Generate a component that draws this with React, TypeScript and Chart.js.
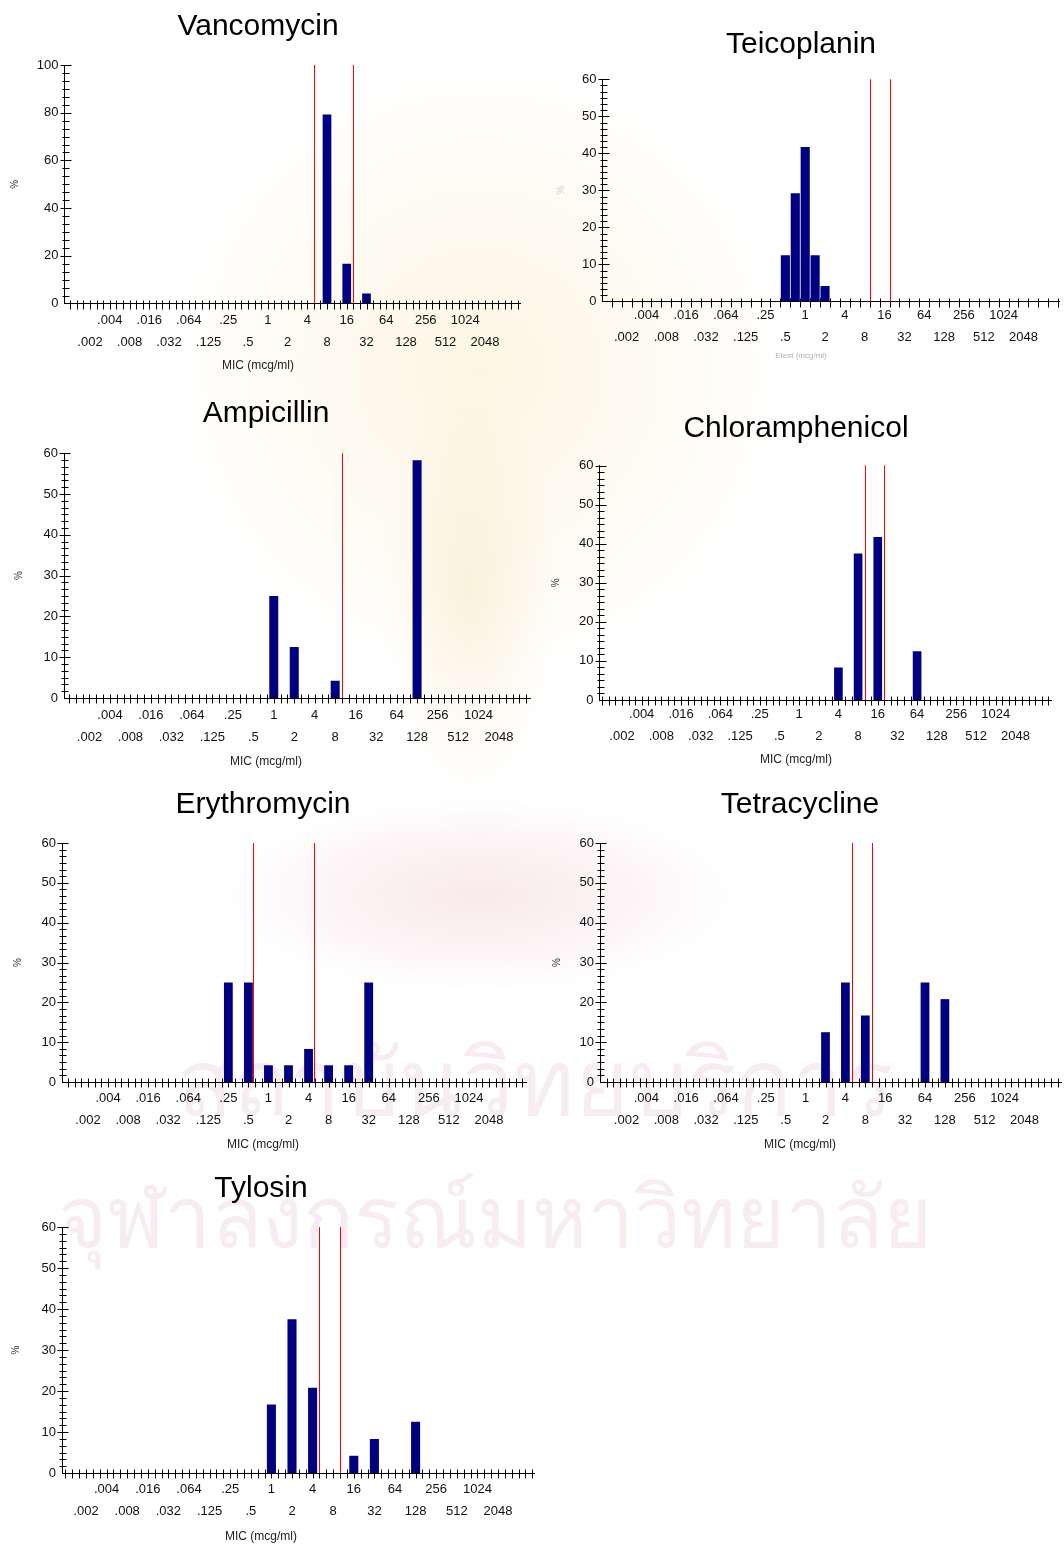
import React, { useEffect, useRef } from 'react';
import { Chart, registerables } from 'chart.js';

Chart.register(...registerables);

const FONT = '"Liberation Sans", Arial, Helvetica, sans-serif';

// ---- x-axis tick labels (log2 dilution series) ----
const MIC_LABELS = ['.002', '.004', '.008', '.016', '.032', '.064', '.125', '.25', '.5', '1', '2', '4', '8', '16', '32', '64', '128', '256', '512', '1024', '2048'];
const FIRST_LABEL_EXP = -9;

// ---- data (% of isolates per MIC) ----
const vancomycinMIC = [8, 16, 32];
const vancomycinPct = [79.2, 16.7, 4.2];
const vancomycinBreakpoints = [4, 16];

const teicoplaninMIC = [0.5, 0.75, 1, 1.5, 2];
const teicoplaninPct = [12.5, 29.2, 41.7, 12.5, 4.2];
const teicoplaninBreakpoints = [8, 16];

const ampicillinMIC = [1, 2, 8, 128];
const ampicillinPct = [25, 12.5, 4.2, 58.3];
const ampicillinBreakpoints = [8];

const chloramphenicolMIC = [4, 8, 16, 64];
const chloramphenicolPct = [8.3, 37.5, 41.7, 12.5];
const chloramphenicolBreakpoints = [8, 16];

const erythromycinMIC = [0.25, 0.5, 1, 2, 4, 8, 16, 32];
const erythromycinPct = [25, 25, 4.2, 4.2, 8.3, 4.2, 4.2, 25];
const erythromycinBreakpoints = [0.5, 4];

const tetracyclineMIC = [2, 4, 8, 64, 128];
const tetracyclinePct = [12.5, 25, 16.7, 25, 20.8];
const tetracyclineBreakpoints = [4, 8];

const tylosinMIC = [1, 2, 4, 16, 32, 128];
const tylosinPct = [16.7, 37.5, 20.8, 4.2, 8.3, 12.5];
const tylosinBreakpoints = [4, 8];

type Box = {
  L: number; R: number; T: number; B: number; // plot area (page px)
  p0: number; p1: number; // pixel of .002 and 2048
  tx: number; ty: number; // title centre
  my: number; // x-title centre y
  px: number; // "%" x
  row: number; // first label row offset
};

type Spec = {
  title: string;
  mic: number[];
  pct: number[];
  bp: number[];
  yMax: number;
  yStep: number;
  xTitle: string;
  xTitleColor: string;
  xTitleSize: number;
  pctColor: string;
  tickStep: number;
  tickOffset: number;
  lineOffset: number;
  barUnits: number;
  box: Box;
};

const PANELS: Spec[] = [
  {
    title: 'Vancomycin', mic: vancomycinMIC, pct: vancomycinPct, bp: vancomycinBreakpoints,
    yMax: 100, yStep: 20, xTitle: 'MIC (mcg/ml)', xTitleColor: '#222', xTitleSize: 12, pctColor: '#333',
    tickStep: 1 / 3, tickOffset: 0, lineOffset: 1 / 3, barUnits: 0.44,
    box: { L: 64.5, R: 521, T: 65, B: 303.5, p0: 90, p1: 485, tx: 258, ty: 25, my: 366, px: 15, row: 17 },
  },
  {
    title: 'Teicoplanin', mic: teicoplaninMIC, pct: teicoplaninPct, bp: teicoplaninBreakpoints,
    yMax: 60, yStep: 10, xTitle: 'Etest (mcg/ml)', xTitleColor: '#b0b0b0', xTitleSize: 8, pctColor: '#cfcfcf',
    tickStep: 0.5, tickOffset: 0.25, lineOffset: 0.25, barUnits: 0.46,
    box: { L: 602.5, R: 1059.5, T: 79.3, B: 301.5, p0: 626.6, p1: 1023, tx: 801, ty: 43, my: 356, px: 561, row: 14 },
  },
  {
    title: 'Ampicillin', mic: ampicillinMIC, pct: ampicillinPct, bp: ampicillinBreakpoints,
    yMax: 60, yStep: 10, xTitle: 'MIC (mcg/ml)', xTitleColor: '#222', xTitleSize: 12, pctColor: '#333',
    tickStep: 1 / 3, tickOffset: 0, lineOffset: 1 / 3, barUnits: 0.44,
    box: { L: 64, R: 531, T: 453.3, B: 698, p0: 89.5, p1: 499, tx: 266, ty: 412, my: 762, px: 19, row: 17 },
  },
  {
    title: 'Chloramphenicol', mic: chloramphenicolMIC, pct: chloramphenicolPct, bp: chloramphenicolBreakpoints,
    yMax: 60, yStep: 10, xTitle: 'MIC (mcg/ml)', xTitleColor: '#222', xTitleSize: 12, pctColor: '#333',
    tickStep: 1 / 3, tickOffset: 0, lineOffset: 1 / 3, barUnits: 0.44,
    box: { L: 599.5, R: 1051.5, T: 465.5, B: 700, p0: 622, p1: 1015, tx: 796, ty: 427, my: 760, px: 556, row: 14 },
  },
  {
    title: 'Erythromycin', mic: erythromycinMIC, pct: erythromycinPct, bp: erythromycinBreakpoints,
    yMax: 60, yStep: 10, xTitle: 'MIC (mcg/ml)', xTitleColor: '#222', xTitleSize: 12, pctColor: '#333',
    tickStep: 1 / 3, tickOffset: 0, lineOffset: 0.25, barUnits: 0.44,
    box: { L: 62, R: 527, T: 843, B: 1082, p0: 88, p1: 489, tx: 263, ty: 803, my: 1145, px: 18, row: 16 },
  },
  {
    title: 'Tetracycline', mic: tetracyclineMIC, pct: tetracyclinePct, bp: tetracyclineBreakpoints,
    yMax: 60, yStep: 10, xTitle: 'MIC (mcg/ml)', xTitleColor: '#222', xTitleSize: 12, pctColor: '#333',
    tickStep: 1 / 3, tickOffset: 0, lineOffset: 1 / 3, barUnits: 0.44,
    box: { L: 600, R: 1062, T: 843, B: 1082, p0: 626.5, p1: 1024.5, tx: 800, ty: 803, my: 1145, px: 557, row: 16 },
  },
  {
    title: 'Tylosin', mic: tylosinMIC, pct: tylosinPct, bp: tylosinBreakpoints,
    yMax: 60, yStep: 10, xTitle: 'MIC (mcg/ml)', xTitleColor: '#222', xTitleSize: 12, pctColor: '#333',
    tickStep: 1 / 3, tickOffset: 0, lineOffset: 1 / 3, barUnits: 0.44,
    box: { L: 62, R: 535, T: 1227, B: 1473, p0: 86, p1: 498, tx: 261, ty: 1187, my: 1537, px: 16, row: 16 },
  },
];

const TITLE_SIZE = 30;
const TITLE_LH = TITLE_SIZE * 1.2;
const TITLE_SHIFT = 2; // visual baseline correction
const LABEL_LH = 22;

const binPos = (mic: number) => Math.round(Math.log2(mic) * 2) / 2;

function MicChart({ spec }: { spec: Spec }) {
  const ref = useRef<HTMLCanvasElement | null>(null);
  const b = spec.box;
  const cR = Math.round(b.R);
  const cL = Math.round(2 * b.tx - cR);
  const cW = cR - cL;
  const cTop = Math.round(b.ty - TITLE_LH / 2 - 2);
  const cBottom = Math.round(b.my + 10);
  const cH = cBottom - cTop;

  useEffect(() => {
    const canvas = ref.current;
    if (!canvas) return;
    const unit = (b.p1 - b.p0) / 20;
    const xMin = FIRST_LABEL_EXP - (b.p0 - b.L) / unit;
    const xMax = FIRST_LABEL_EXP + 20 + (b.R - b.p1) / unit;

    const positions = spec.mic.map(binPos);
    let minGap = 1;
    for (let i = 1; i < positions.length; i++) minGap = Math.min(minGap, positions[i] - positions[i - 1]);

    const titlePadTop = b.ty - cTop - TITLE_LH / 2 + TITLE_SHIFT;
    const titlePadBottom = b.T - cTop - TITLE_LH - titlePadTop;
    const subLH = spec.xTitleSize * 1.2;
    const subPadBottom = cBottom - b.my - subLH / 2;
    const subHeight = subLH + subPadBottom;
    const xScaleHeight = cBottom - subHeight - b.B;
    const yScaleWidth = b.L - cL;

    const decorations = {
      id: 'micDecor',
      afterDatasetsDraw(chart: any) {
        const ctx = chart.ctx as CanvasRenderingContext2D;
        const xs = chart.scales.x;
        const ys = chart.scales.y;
        const area = chart.chartArea;
        ctx.save();
        ctx.strokeStyle = '#000';
        ctx.lineWidth = 1;
        ctx.beginPath();
        // x tick marks (crossing the axis)
        const yAx = Math.round(area.bottom) + 0.5;
        const kStart = Math.ceil((xMin - spec.tickOffset) / spec.tickStep);
        const kEnd = Math.floor((xMax - spec.tickOffset) / spec.tickStep);
        for (let k = kStart; k <= kEnd; k++) {
          const v = k * spec.tickStep + spec.tickOffset;
          const px = Math.round(xs.getPixelForValue(v)) + 0.5;
          if (px < area.left + 3 || px > area.right - 1) continue;
          ctx.moveTo(px, yAx - 4);
          ctx.lineTo(px, yAx + 5);
        }
        // y tick marks: majors and 5 minors between
        const xAx = Math.round(area.left) + 0.5;
        const minor = spec.yStep / 6;
        for (let i = 1; i * minor <= spec.yMax + 1e-9; i++) {
          const v = i * minor;
          const py = Math.round(ys.getPixelForValue(v)) + 0.5;
          const major = i % 6 === 0;
          ctx.moveTo(xAx - (major ? 5 : 3), py);
          ctx.lineTo(xAx + (major ? 6 : 4), py);
        }
        ctx.stroke();
        // breakpoint lines
        ctx.strokeStyle = '#ff0000';
        ctx.beginPath();
        for (const bp of spec.bp) {
          const px = Math.round(xs.getPixelForValue(Math.log2(bp) + spec.lineOffset)) + 0.5;
          ctx.moveTo(px, area.top);
          ctx.lineTo(px, area.bottom);
        }
        ctx.stroke();
        ctx.restore();
      },
    };

    const chart = new Chart(canvas, {
      type: 'bar',
      data: {
        datasets: [
          {
            data: spec.mic.map((m, i) => ({ x: binPos(m), y: spec.pct[i] })),
            backgroundColor: '#000080',
            borderWidth: 0,
            barPercentage: spec.barUnits / minGap,
            categoryPercentage: 1,
          } as any,
        ],
      },
      options: {
        responsive: false,
        maintainAspectRatio: false,
        animation: false,
        devicePixelRatio: 1,
        events: [],
        layout: { padding: 0 },
        plugins: {
          legend: { display: false },
          tooltip: { enabled: false },
          title: {
            display: true,
            text: spec.title,
            color: '#000',
            font: { family: FONT, size: TITLE_SIZE, weight: 'normal', lineHeight: 1.2 },
            padding: { top: titlePadTop, bottom: titlePadBottom },
          },
          subtitle: {
            display: true,
            position: 'bottom',
            text: spec.xTitle,
            color: spec.xTitleColor,
            font: { family: FONT, size: spec.xTitleSize, weight: 'normal', lineHeight: 1.2 },
            padding: { top: 0, bottom: subPadBottom },
          },
        },
        scales: {
          x: {
            type: 'linear',
            offset: false,
            min: xMin,
            max: xMax,
            grid: { display: false, drawTicks: false, offset: false },
            border: { display: true, color: '#000', width: 1 },
            afterBuildTicks: (scale: any) => {
              const t = [];
              for (let e = FIRST_LABEL_EXP; e < FIRST_LABEL_EXP + MIC_LABELS.length; e++) t.push({ value: e });
              scale.ticks = t;
            },
            afterFit: (scale: any) => {
              scale.height = xScaleHeight;
            },
            ticks: {
              autoSkip: false,
              maxRotation: 0,
              minRotation: 0,
              padding: b.row - LABEL_LH / 2,
              color: '#111',
              font: { family: FONT, size: 13, lineHeight: LABEL_LH / 13 },
              callback: (value: any) => {
                const e = Math.round(Number(value));
                const label = MIC_LABELS[e - FIRST_LABEL_EXP];
                if (label === undefined) return '';
                return Math.abs(e % 2) === 1 ? ['', label] : [label];
              },
            },
          },
          y: {
            type: 'linear',
            min: 0,
            max: spec.yMax,
            grid: { display: false, drawTicks: false },
            border: { display: true, color: '#000', width: 1 },
            afterFit: (scale: any) => {
              scale.width = yScaleWidth;
            },
            title: {
              display: true,
              text: '%',
              color: spec.pctColor,
              font: { family: FONT, size: 10, lineHeight: 1.2 },
              padding: { top: b.px - cL - 6, bottom: 0 },
            },
            ticks: {
              stepSize: spec.yStep,
              padding: 6,
              color: '#111',
              font: { family: FONT, size: 13 },
            },
          },
        },
      } as any,
      plugins: [decorations],
    });
    return () => chart.destroy();
  }, [spec]);

  return (
    <canvas
      ref={ref}
      width={cW}
      height={cH}
      style={{ position: 'absolute', left: cL, top: cTop, width: cW, height: cH, zIndex: 2 }}
    />
  );
}

function Watermark() {
  return (
    <div style={{ position: 'absolute', left: 0, top: 0, width: 1064, height: 1547, zIndex: 1, pointerEvents: 'none' }}>
      <div style={{ position: 'absolute', left: 170, top: 60, width: 620, height: 620, borderRadius: '50%', background: 'radial-gradient(circle, rgba(250,238,205,0.55) 0%, rgba(252,244,222,0.35) 45%, rgba(255,255,255,0) 70%)' }} />
      <div style={{ position: 'absolute', left: 380, top: 380, width: 180, height: 420, borderRadius: '40%', background: 'radial-gradient(ellipse, rgba(246,232,196,0.5) 0%, rgba(255,255,255,0) 70%)' }} />
      <div style={{ position: 'absolute', left: 230, top: 800, width: 500, height: 190, borderRadius: '50%', background: 'radial-gradient(ellipse, rgba(244,214,220,0.55) 0%, rgba(248,228,232,0.3) 50%, rgba(255,255,255,0) 72%)' }} />
      <div style={{ position: 'absolute', left: 165, top: 1030, width: 740, textAlign: 'center', fontFamily: '"Noto Sans", sans-serif', fontSize: 92, lineHeight: '100px', color: 'rgba(225,185,205,0.28)', whiteSpace: 'nowrap' }}>สถาบันวิทยบริการ</div>
      <div style={{ position: 'absolute', left: 45, top: 1165, width: 900, textAlign: 'center', fontFamily: '"Noto Sans", sans-serif', fontSize: 84, lineHeight: '100px', color: 'rgba(225,185,205,0.28)', whiteSpace: 'nowrap' }}>จุฬาลงกรณ์มหาวิทยาลัย</div>
    </div>
  );
}

export default function App() {
  return (
    <div style={{ position: 'absolute', left: 0, top: 0, width: 1064, height: 1547, overflow: 'hidden', background: '#fff' }}>
      <Watermark />
      {PANELS.map((p) => (
        <MicChart key={p.title} spec={p} />
      ))}
    </div>
  );
}
